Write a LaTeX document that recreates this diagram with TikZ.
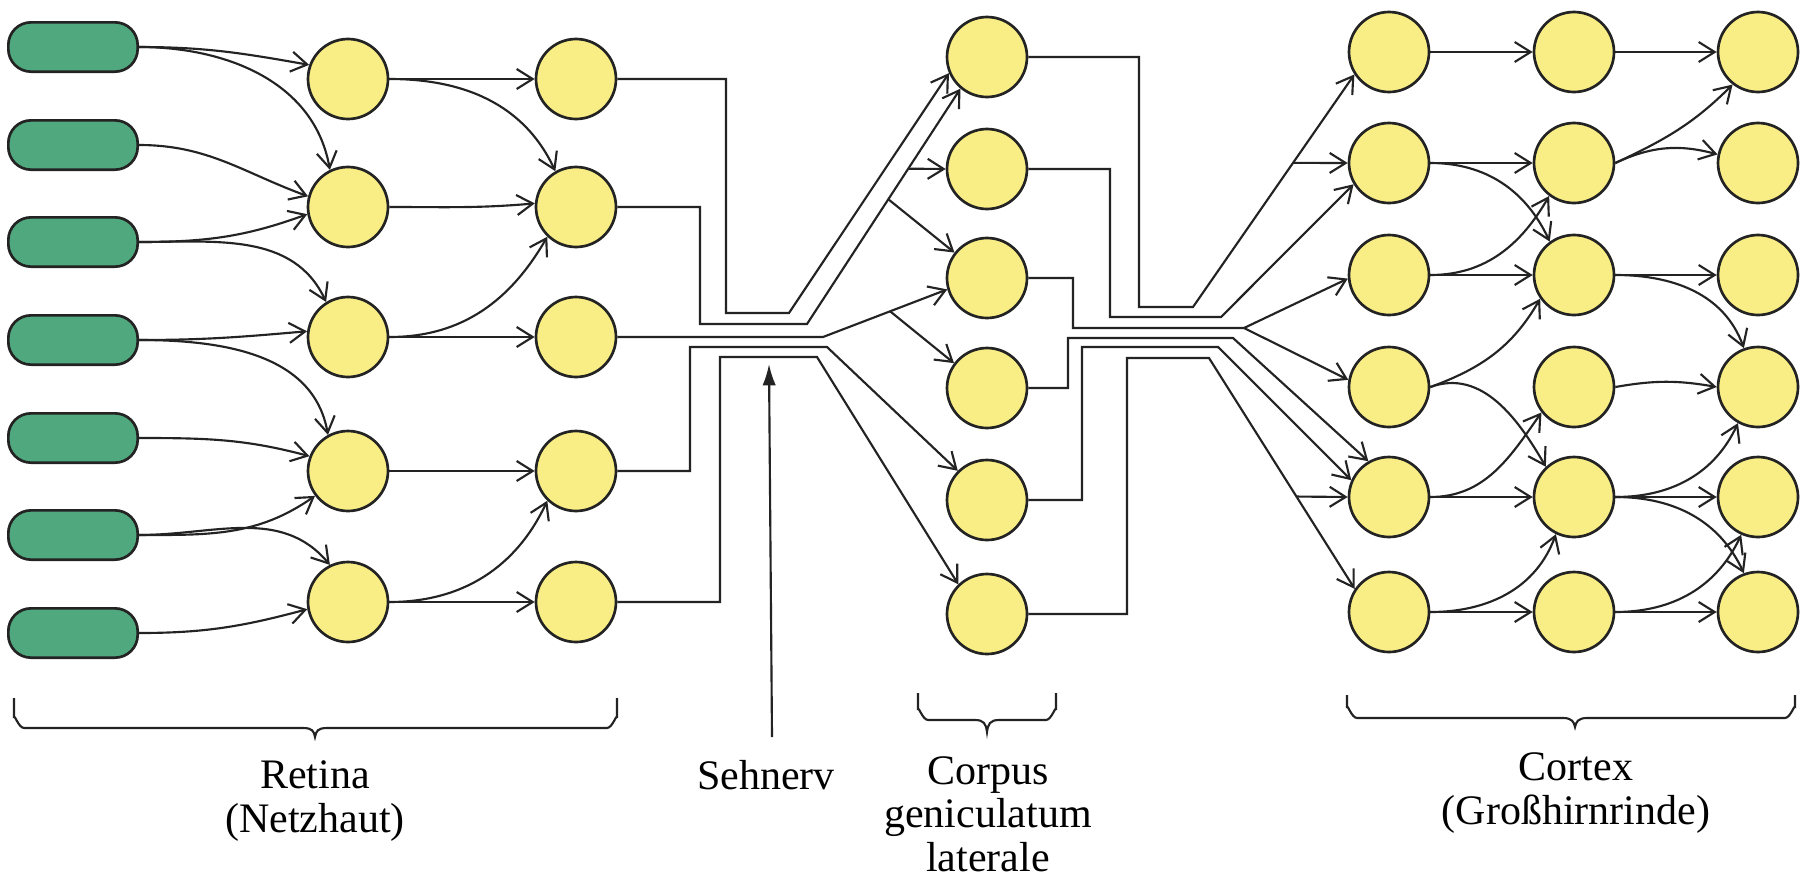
\documentclass[tikz,border=0pt]{standalone}
\usepackage{fontspec}
\setmainfont{Liberation Serif}
\usetikzlibrary{arrows.meta,calc}

\definecolor{gruen}{RGB}{80,168,126}
\definecolor{gelb}{RGB}{249,238,134}
\definecolor{strich}{RGB}{35,35,35}

\tikzset{every picture/.style={line width=0.75pt}}
\tikzset{
	rezeptor/.style={draw=strich, line width=2pt, fill=gruen, rounded corners=17pt, minimum width=97pt, minimum height=37pt, inner sep=0pt},
	zelle/.style={circle, draw=strich, line width=2pt, fill=gelb, minimum size=60pt, inner sep=0pt},
	pfeil/.style={draw=strich, line width=1.6pt, -{Straight Barb[length=12pt,width=15pt,line width=1.6pt]}},
	zeiger/.style={draw=strich, line width=1.6pt, -{Latex[length=16pt,width=10pt]}},
	klammer/.style={draw=strich, line width=1.6pt},
	beschriftung/.style={align=center, font=\fontsize{31.5}{32.5}\selectfont, inner sep=0pt},
}

\begin{document}
\begin{tikzpicture}[x=0.75pt,y=0.75pt,yscale=-1,xscale=1]
	\useasboundingbox (0,0) rectangle (1816,879);

	%Shape: Receptors
	\node[rezeptor] (rez1) at (73,47) {};
	\node[rezeptor] (rez2) at (73,145) {};
	\node[rezeptor] (rez3) at (73,242) {};
	\node[rezeptor] (rez4) at (73,340) {};
	\node[rezeptor] (rez5) at (73,438) {};
	\node[rezeptor] (rez6) at (73,535) {};
	\node[rezeptor] (rez7) at (73,633) {};

	%Shape: Circle (retina, first layer)
	\node[zelle] (bip1) at (348,79) {};
	\node[zelle] (bip2) at (348,207) {};
	\node[zelle] (bip3) at (348,337) {};
	\node[zelle] (bip4) at (348,471) {};
	\node[zelle] (bip5) at (348,602) {};
	%Shape: Circle (retina, second layer)
	\node[zelle] (gang1) at (576,79) {};
	\node[zelle] (gang2) at (576,207) {};
	\node[zelle] (gang3) at (576,337) {};
	\node[zelle] (gang4) at (576,471) {};
	\node[zelle] (gang5) at (576,602) {};

	%Shape: Circle (corpus geniculatum laterale)
	\node[zelle] (cgl1) at (987,57) {};
	\node[zelle] (cgl2) at (987,169) {};
	\node[zelle] (cgl3) at (987,278) {};
	\node[zelle] (cgl4) at (987,388) {};
	\node[zelle] (cgl5) at (987,500) {};
	\node[zelle] (cgl6) at (987,614) {};

	%Shape: Circle (cortex)
	\node[zelle] (cxa1) at (1389,52) {};
	\node[zelle] (cxa2) at (1389,163) {};
	\node[zelle] (cxa3) at (1389,275) {};
	\node[zelle] (cxa4) at (1389,387) {};
	\node[zelle] (cxa5) at (1389,497) {};
	\node[zelle] (cxa6) at (1389,612) {};
	\node[zelle] (cxb1) at (1574,52) {};
	\node[zelle] (cxb2) at (1574,163) {};
	\node[zelle] (cxb3) at (1574,275) {};
	\node[zelle] (cxb4) at (1574,387) {};
	\node[zelle] (cxb5) at (1574,497) {};
	\node[zelle] (cxb6) at (1574,612) {};
	\node[zelle] (cxc1) at (1758,52) {};
	\node[zelle] (cxc2) at (1758,163) {};
	\node[zelle] (cxc3) at (1758,275) {};
	\node[zelle] (cxc4) at (1758,387) {};
	\node[zelle] (cxc5) at (1758,497) {};
	\node[zelle] (cxc6) at (1758,612) {};

	%Curve Lines: receptors to first layer
	\draw[pfeil] (rez1.east) to[out=0,in=-170] (bip1.160);
	\draw[pfeil] (rez1.east) to[out=0,in=-100] (bip2.116);
	\draw[pfeil] (rez2.east) to[out=0,in=-160] (bip2.165);
	\draw[pfeil] (rez3.east) to[out=0,in=-200] (bip2.190);
	\draw[pfeil] (rez3.east) to[out=0,in=-115] (bip3.122);
	\draw[pfeil] (rez4.east) to[out=0,in=-185] (bip3.172);
	\draw[pfeil] (rez4.east) to[out=0,in=-100] (bip4.119);
	\draw[pfeil] (rez5.east) to[out=0,in=-165] (bip4.159);
	\draw[pfeil] (rez6.east) to[out=0,in=-215] (bip4.217);
	\draw[pfeil] (rez6.east) to[out=0,in=-130] (bip5.116);
	\draw[pfeil] (rez7.east) to[out=0,in=-195] (bip5.190);

	%Curve Lines: first to second layer
	\draw[pfeil] (bip1.east) -- (gang1.west);
	\draw[pfeil] (bip1.east) to[out=0,in=-115] (gang2.120);
	\draw[pfeil] (bip2.east) to[out=0,in=-185] (gang2.175);
	\draw[pfeil] (bip3.east) to[out=0,in=-240] (gang2.226);
	\draw[pfeil] (bip3.east) -- (gang3.west);
	\draw[pfeil] (bip4.east) -- (gang4.west);
	\draw[pfeil] (bip5.east) to[out=0,in=-245] (gang4.226);
	\draw[pfeil] (bip5.east) -- (gang5.west);

	%Straight Lines: Sehnerv
	\coordinate (s2) at (807,324);
	\coordinate (s3) at (823,337);
	\draw[pfeil] (gang1.east) -| (726,313) -- (789,313) -- (cgl1.203);
	\draw[pfeil] (gang2.east) -| (700,324) -- (s2) -- (cgl1.230);
	\draw[pfeil] ($(s2)!0.66!(cgl1.230)$) -- (cgl2.west);
	\draw[pfeil] ($(s2)!0.53!(cgl1.230)$) -- (cgl3.142);
	\draw[pfeil] (gang3.east) -- (s3) -- (cgl3.196);
	\draw[pfeil] ($(s3)!0.54!(cgl3.196)$) -- (cgl4.143);
	\draw[pfeil] (gang4.east) -| (690,347) -- (827,347) -- (cgl5.135);
	\draw[pfeil] (gang5.east) -| (720,357) -- (817,357) -- (cgl6.134);

	%Straight Lines: corpus to cortex
	\coordinate (s4) at (1193,307);
	\coordinate (s5) at (1244,328);
	\coordinate (s6) at (1209,358);
	\draw[pfeil] (cgl1.east) -| (1139,307) -- (s4) -- (cxa1.213);
	\draw[pfeil] ($(s4)!0.62!(cxa1.213)$) -- (cxa2.west);
	\draw[pfeil] (cgl2.east) -| (1110,317) -- (1221,317) -- (cxa2.211);
	\draw[pfeil] (cgl3.east) -| (1073,328) -- (s5) -- (cxa3.185);
	\draw[pfeil] (s5) -- (cxa4.170);
	\draw[pfeil] (cgl4.east) -| (1068,338) -- (1233,338) -- (cxa5.120);
	\draw[pfeil] (cgl5.east) -| (1082,347) -- (1218,347) -- (cxa5.156);
	\draw[pfeil] (cgl6.east) -| (1127,358) -- (s6) -- (cxa6.146);
	\draw[pfeil] ($(s6)!0.6!(cxa6.146)$) -- (cxa5.west);

	%Curve Lines: cortex
	\draw[pfeil] (cxa1.east) -- (cxb1.west);
	\draw[pfeil] (cxb1.east) -- (cxc1.west);
	\draw[pfeil] (cxa2.east) -- (cxb2.west);
	\draw[pfeil] (cxa2.east) to[out=0,in=-115] (cxb3.126);
	\draw[pfeil] (cxb2.east) to[out=-25,in=-225] (cxc1.232);
	\draw[pfeil] (cxb2.east) to[out=-25,in=-165] (cxc2.168);
	\draw[pfeil] (cxa3.east) -- (cxb3.west);
	\draw[pfeil] (cxa3.east) to[out=0,in=-240] (cxb2.233);
	\draw[pfeil] (cxb3.east) -- (cxc3.west);
	\draw[pfeil] (cxb3.east) to[out=0,in=-110] (cxc4.110);
	\draw[pfeil] (cxa4.east) to[out=-20,in=-240] (cxb3.215);
	\draw[pfeil] (cxa4.east) to[out=-20,in=-120] (cxb5.133);
	\draw[pfeil] (cxb4.east) to[out=-10,in=-170] (cxc4.west);
	\draw[pfeil] (cxa5.east) -- (cxb5.west);
	\draw[pfeil] (cxa5.east) to[out=0,in=-235] (cxb4.218);
	\draw[pfeil] (cxb5.east) to[out=0,in=-245] (cxc4.241);
	\draw[pfeil] (cxb5.east) -- (cxc5.west);
	\draw[pfeil] (cxb5.east) to[out=0,in=-115] (cxc6.110);
	\draw[pfeil] (cxa6.east) -- (cxb6.west);
	\draw[pfeil] (cxa6.east) to[out=0,in=-250] (cxb5.244);
	\draw[pfeil] (cxb6.east) -- (cxc6.west);
	\draw[pfeil] (cxb6.east) to[out=0,in=-245] (cxc5.246);

	%Shape: Braces
	\draw[klammer] (14,698) -- (14,718) to[out=-90,in=180] (24,728) -- (303,728) .. controls (312,728) and (314,731) .. (315,737) .. controls (316,731) and (318,728) .. (327,728) -- (607,728) to[out=0,in=-90] (617,718) -- (617,698);
	\draw[klammer] (918,693) -- (918,710) to[out=-90,in=180] (928,720) -- (975,720) .. controls (984,720) and (986,724) .. (987,732) .. controls (988,724) and (990,720) .. (999,720) -- (1046,720) to[out=0,in=-90] (1056,710) -- (1056,693);
	\draw[klammer] (1347,695) -- (1347,708) to[out=-90,in=180] (1357,718) -- (1563,718) .. controls (1572,718) and (1574,722) .. (1575,727) .. controls (1576,722) and (1578,718) .. (1587,718) -- (1785,718) to[out=0,in=-90] (1795,708) -- (1795,695);

	%Straight Lines: pointer
	\coordinate (snfuss) at (772,737);
	\coordinate (snspitze) at (769,364);
	\draw[zeiger] (snfuss) -- (snspitze);

	% Text Node
	\node[beschriftung] (retina) at (315,801) {Retina\\(Netzhaut)};
	% Text Node
	\node[beschriftung] (sehnerv) at (766,775) {Sehnerv};
	% Text Node
	\node[beschriftung] (corpus) at (988,814) {Corpus\\geniculatum\\laterale};
	% Text Node
	\node[beschriftung] (cortex) at (1576,793) {Cortex\\(Großhirnrinde)};
\end{tikzpicture}
\end{document}
